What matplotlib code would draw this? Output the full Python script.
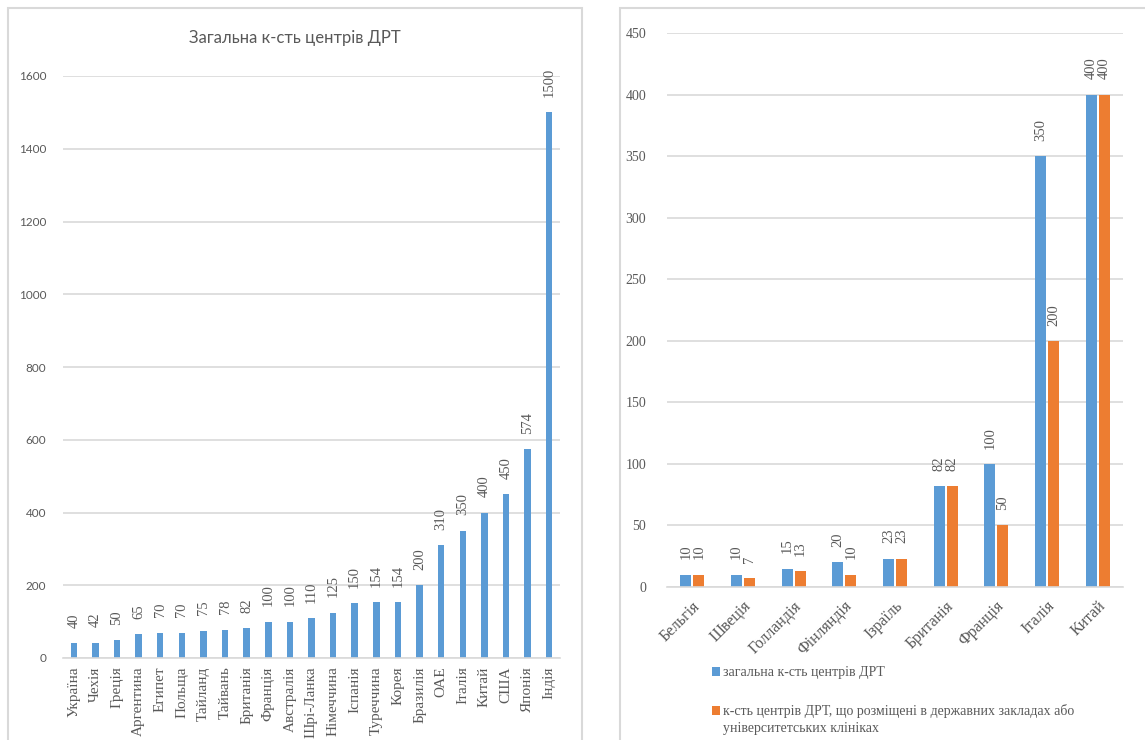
import matplotlib.pyplot as plt
from matplotlib.patches import Rectangle
import numpy as np

# ---------------------------
# Data
# ---------------------------
left_title = "Загальна к-сть центрів ДРТ"
left_countries = ["Україна", "Чехія", "Греція", "Аргентина", "Египет", "Польща",
                  "Тайланд", "Тайвань", "Британія", "Франція", "Австралія",
                  "Шрі-Ланка", "Німеччина", "Іспанія", "Туреччина", "Корея",
                  "Бразилія", "ОАЕ", "Італія", "Китай", "США", "Японія", "Індія"]
left_values = [40, 42, 50, 65, 70, 70, 75, 78, 82, 100, 100, 110, 125, 150,
               154, 154, 200, 310, 350, 400, 450, 574, 1500]

right_countries = ["Бельгія", "Швеція", "Голландія", "Фінляндія", "Ізраїль",
                   "Британія", "Франція", "Італія", "Китай"]
right_total = [10, 10, 15, 20, 23, 82, 100, 350, 400]
right_public = [10, 7, 13, 10, 23, 82, 50, 200, 400]
right_labels = ["загальна к-сть центрів ДРТ",
                "к-сть центрів ДРТ, що розміщені в державних закладах або"]
right_label_cont = "університетських клініках"

BLUE = "#5B9BD5"
ORANGE = "#ED7D31"
GRID = "#D9D9D9"
TXT = "#595959"
SERIF = "Liberation Serif"
SANS = "Lato"

W, H = 1145, 740
fig = plt.figure(figsize=(W / 100, H / 100), dpi=100)


def box(x0, y0, x1, y1):
    # pixel box -> figure fraction rect
    return [x0 / W, 1 - y1 / H, (x1 - x0) / W, (y1 - y0) / H]


# chart frames (Excel-style), cut at the bottom
fig.add_artist(Rectangle((8 / W, -0.1), (582 - 8) / W, 1.1 - 8 / H,
                         transform=fig.transFigure, fill=False, edgecolor=GRID, lw=1.5))
fig.add_artist(Rectangle((620 / W, -0.1), 1.0, 1.1 - 8 / H,
                         transform=fig.transFigure, fill=False, edgecolor=GRID, lw=1.5))


def style(ax):
    for s in ["top", "right", "left"]:
        ax.spines[s].set_visible(False)
    ax.spines["bottom"].set_color(GRID)
    ax.spines["bottom"].set_linewidth(1.2)
    ax.yaxis.grid(True, color=GRID, lw=1.2)
    ax.set_axisbelow(True)
    ax.tick_params(length=0, colors=TXT)


# ---------------------------
# Left chart
# ---------------------------
ax1 = fig.add_axes(box(63, 76, 560, 658))
x1 = np.arange(len(left_countries))
bars = ax1.bar(x1, left_values, width=0.3, color=BLUE)
ax1.set_xlim(-0.5, len(left_countries) - 0.5)
ax1.set_ylim(0, 1600)
ax1.set_yticks(range(0, 1601, 200))
style(ax1)
ax1.set_xticks(x1)
ax1.set_xticklabels(left_countries, rotation=90)
ax1.tick_params(axis="y", pad=12, labelfontfamily=SANS, labelsize=8.5)
ax1.tick_params(axis="x", pad=6, labelfontfamily=SERIF, labelsize=11)
ax1.bar_label(bars, rotation=90, padding=11, family=SERIF, fontsize=10.5, color=TXT)
fig.text(295 / W, 1 - 38 / H, left_title, ha="center", va="center",
         family=SANS, fontsize=12, color=TXT)

# ---------------------------
# Right chart
# ---------------------------
ax2 = fig.add_axes(box(667, 33, 1123, 587))
x2 = np.arange(len(right_countries))
bw = 0.22
b1 = ax2.bar(x2 - bw / 2 - 0.02, right_total, width=bw, color=BLUE, label=right_labels[0])
b2 = ax2.bar(x2 + bw / 2 + 0.02, right_public, width=bw, color=ORANGE, label=right_labels[1])
ax2.set_xlim(-0.5, len(right_countries) - 0.5)
ax2.set_ylim(0, 450)
ax2.set_yticks(range(0, 451, 50))
style(ax2)
ax2.set_xticks(x2)
ax2.set_xticklabels(right_countries, rotation=45, ha="right", rotation_mode="anchor")
ax2.tick_params(axis="y", pad=15, labelfontfamily=SERIF, labelsize=10)
ax2.tick_params(axis="x", pad=8, labelfontfamily=SERIF, labelsize=11.5)
ax2.bar_label(b1, rotation=90, padding=11, family=SERIF, fontsize=10.5, color=TXT)
ax2.bar_label(b2, rotation=90, padding=11, family=SERIF, fontsize=10.5, color=TXT)

leg = fig.legend(loc="upper left", bbox_to_anchor=(712 / W, 1 - 666 / H),
                 frameon=False, prop={"family": SERIF, "size": 10},
                 handlelength=0.6, handleheight=0.6, handletextpad=0.2,
                 labelspacing=1.8, borderaxespad=0, borderpad=0)
for t in leg.get_texts():
    t.set_color(TXT)

# second line of the long legend entry, placed under its first line
fig.canvas.draw()
bb = leg.get_texts()[1].get_window_extent()
fig.text(bb.x0 / W, (bb.y0 - 4) / H, right_label_cont, ha="left", va="top",
         family=SERIF, fontsize=10, color=TXT)

fig.savefig("out.png", dpi=100)
